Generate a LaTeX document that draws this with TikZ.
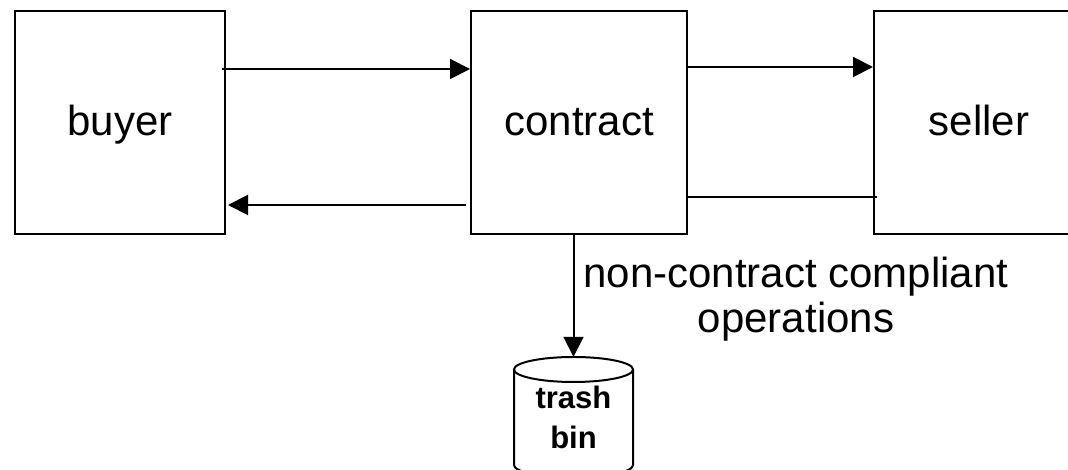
\documentclass[tikz,border=0pt]{standalone}
\usepackage{fontspec}
\setmainfont{Liberation Sans}
\usetikzlibrary{arrows.meta,calc}
\begin{document}
\begin{tikzpicture}[x=1pt,y=1pt,
  box/.style={draw,line width=2pt,minimum width=210pt,minimum height=223pt,inner sep=0pt,text height=33pt,text depth=6pt,font=\fontsize{42}{45}\selectfont},
  arr/.style={line width=2pt,-{Triangle[length=20pt,width=20pt]}},
  conn/.style={line width=2pt}]
\useasboundingbox (0,0) rectangle (1068,470);
\clip (0,0) rectangle (1068,470);
\node[box] (buyer) at (120,347.5) {buyer};
\node[box,minimum width=216pt] (contract) at (579,347.5) {contract};
\node[box] (seller) at (979,347.5) {seller};
\node[minimum width=119pt,minimum height=120.5pt,inner sep=0pt,align=center,font=\bfseries\fontsize{31}{40}\selectfont] (bin) at (573.5,52.75) {trash\\bin};
\node[inner sep=0pt,align=center,font=\fontsize{42}{45}\selectfont] (lbl) at (796,171) {non-contract compliant\\operations};
% cylinder
\draw[conn] (514,100.5) -- (514,5) arc[start angle=180,end angle=360,x radius=59.5,y radius=12.5] -- (633,100.5);
\draw[conn] (573.5,100.5) ellipse [x radius=59.5,y radius=12.5];
% connectors
\draw[arr] ($(buyer.east |- 0,401)+(-4,0)$) -- (contract.west |- 0,401);
\draw[arr] ($(contract.west |- 0,265)+(-4,0)$) -- ($(buyer.east |- 0,265)+(2,0)$);
\draw[arr] (contract.east |- 0,403) -- (seller.west |- 0,403);
\draw[conn] (contract.east |- 0,273) -- ($(seller.west |- 0,273)+(4,0)$);
\draw[arr] (contract.south -| bin.north) -- (bin.north);
\end{tikzpicture}
\end{document}
